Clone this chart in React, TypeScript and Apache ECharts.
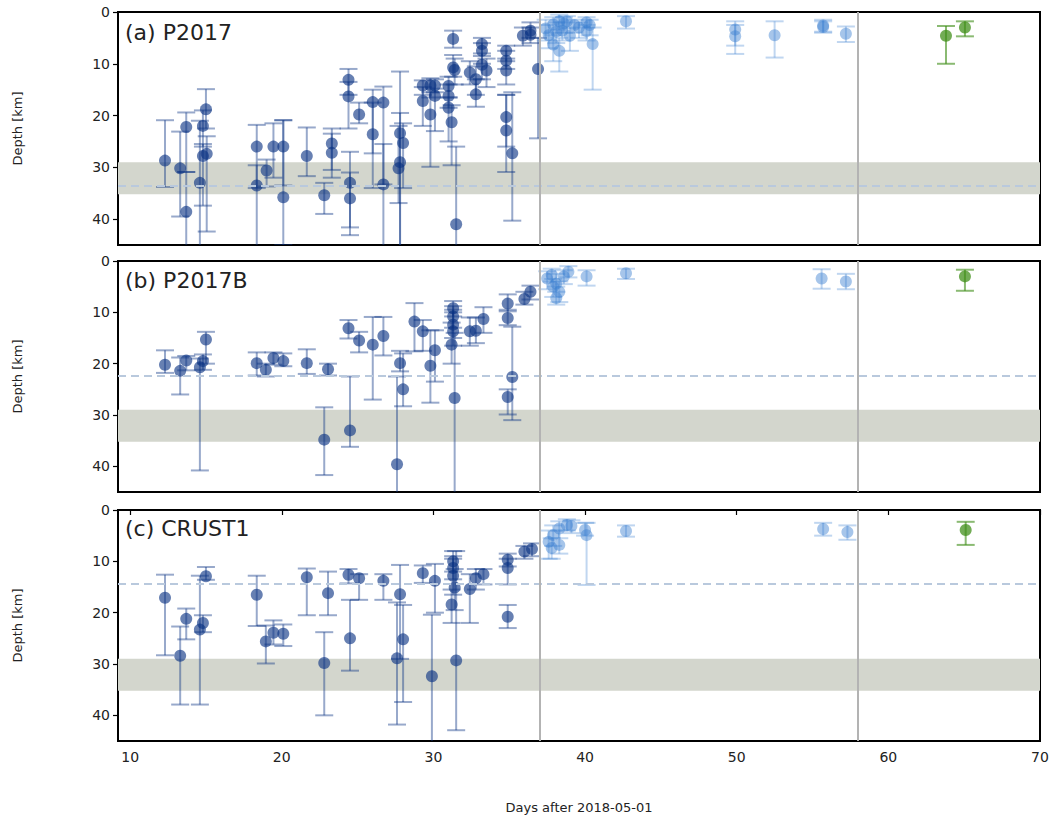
import React, { useEffect, useRef } from "react";
import * as echarts from "echarts";

// [day, depth, depthTopOfErrorBar, depthBottomOfErrorBar]
const aDark: number[][] = [
  [12.3, 28.7, 20.9, 33.8], [13.3, 30.2, 23.1, 39.5], [13.7, 22.2, 19.4, 30.9], [13.7, 38.6, 30.9, 50],
  [14.6, 33.0, 21.0, 50], [14.8, 22.0, 19.0, 26.0], [15.0, 18.8, 14.9, 22.5], [14.8, 27.8, 25.5, 37.4],
  [15.05, 27.4, 24.0, 42.4], [18.35, 26.0, 21.8, 34.0], [18.35, 33.5, 29.6, 50], [19.0, 30.6, 28.5, 33.7],
  [19.45, 26.0, 21.5, 32.0], [20.1, 26.0, 20.9, 33.5], [20.1, 35.8, 20.9, 45], [21.65, 27.8, 22.3, 31.7],
  [22.8, 35.4, 33.0, 39.0], [23.3, 25.4, 22.5, 30.5], [23.3, 27.2, 23.5, 32.0], [24.4, 13.1, 11.0, 16.0],
  [24.4, 16.3, 13.5, 22.5], [24.5, 33.0, 27.0, 41.6], [24.5, 36.0, 31.0, 43.1], [25.1, 19.8, 17.5, 21.5],
  [26.0, 17.4, 15.0, 34.0], [26.0, 23.6, 17.5, 27.3], [26.7, 17.5, 14.4, 50], [26.7, 33.3, 25.5, 33.3],
  [27.8, 23.4, 19.5, 50], [28.0, 25.3, 21.5, 34.0], [27.8, 29.0, 11.5, 50], [27.7, 30.2, 22.0, 36.9],
  [29.3, 14.2, 13.2, 16.0], [29.3, 17.2, 14.5, 22.0], [29.8, 14.2, 12.8, 16.5], [30.1, 14.2, 13.0, 15.5],
  [30.1, 16.2, 14.8, 23.0], [29.8, 19.8, 15.5, 29.9], [31.3, 5.2, 3.6, 6.9], [31.3, 10.7, 8.3, 12.5],
  [31.4, 11.2, 9.0, 14.0], [31.0, 14.3, 12.5, 16.5], [31.0, 16.2, 14.0, 18.5], [31.0, 18.5, 16.5, 25.0],
  [31.2, 21.3, 18.0, 29.6], [31.5, 41.0, 26.0, 50], [32.4, 11.7, 9.5, 14.0], [32.8, 13.0, 10.5, 16.0],
  [32.8, 15.9, 13.0, 18.3], [33.2, 6.2, 5.0, 8.5], [33.2, 7.5, 6.0, 10.0], [33.2, 10.2, 8.0, 13.0],
  [33.5, 11.3, 9.0, 14.5], [34.8, 7.5, 6.5, 9.5], [34.8, 9.4, 7.5, 11.0], [34.8, 11.3, 9.0, 14.0],
  [34.8, 20.3, 16.0, 26.0], [34.8, 22.9, 16.0, 30.9], [35.2, 27.3, 15.5, 40.3], [35.9, 4.6, 3.0, 6.5],
  [36.4, 4.4, 3.0, 6.0], [36.4, 3.6, 2.0, 5.0], [36.9, 11.0, 5.0, 24.4],
];
const aLight: number[][] = [
  [37.4, 3.2, 1.5, 5.5], [37.6, 4.5, 2.5, 7.0], [37.9, 2.4, 1.0, 4.5], [37.9, 6.3, 4.0, 9.5],
  [38.1, 3.8, 2.0, 6.0], [38.3, 1.8, 0.5, 3.5], [38.3, 7.5, 5.0, 11.5], [38.5, 3.6, 2.0, 5.5],
  [38.6, 2.2, 1.0, 4.0], [38.8, 1.8, 0.8, 3.2], [39.0, 4.6, 3.0, 7.5], [39.3, 2.5, 1.5, 4.0],
  [39.6, 3.0, 2.0, 5.0], [40.1, 2.0, 1.0, 3.0], [40.1, 3.7, 2.5, 5.5], [40.3, 2.5, 1.5, 4.5],
  [40.5, 6.2, 3.0, 15.0], [42.7, 1.8, 0.8, 3.2], [49.9, 3.4, 1.8, 6.5], [49.9, 4.7, 2.5, 8.1],
  [52.5, 4.5, 1.8, 8.8], [55.7, 2.6, 1.5, 3.8], [55.7, 2.9, 1.8, 4.0], [57.2, 4.2, 2.8, 5.8],
];
const aGreen: number[][] = [[63.8, 4.6, 2.7, 10.0], [65.05, 3.0, 1.8, 4.7]];

const bDark: number[][] = [
  [12.3, 20.2, 17.4, 21.8], [13.3, 21.4, 18.8, 26.0], [13.7, 19.4, 18.5, 21.3], [14.6, 20.7, 19.0, 40.8],
  [14.8, 19.5, 18.2, 21.2], [15.0, 15.3, 13.8, 20.0], [18.35, 19.9, 17.8, 22.3], [18.95, 21.2, 20.0, 22.5],
  [19.45, 18.9, 17.8, 20.2], [20.1, 19.5, 18.0, 20.5], [21.65, 19.9, 17.2, 22.0], [22.8, 34.8, 28.5, 41.7],
  [23.05, 21.1, 20.0, 22.3], [24.4, 13.1, 11.5, 15.1], [24.5, 33.0, 22.5, 36.2], [25.1, 15.5, 13.8, 17.8],
  [26.0, 16.3, 10.9, 27.0], [26.7, 14.6, 10.9, 18.4], [27.8, 19.9, 17.5, 21.5], [28.0, 25.0, 18.0, 28.3],
  [27.6, 39.6, 22.5, 50], [28.75, 11.8, 8.2, 17.6], [29.3, 13.7, 11.5, 17.5], [29.8, 20.4, 13.5, 27.6],
  [30.1, 17.4, 13.5, 23.5], [31.3, 9.2, 7.8, 10.8], [31.3, 10.8, 8.8, 13.0], [31.3, 12.4, 9.5, 15.0],
  [31.3, 13.7, 10.0, 16.5], [31.2, 16.3, 12.0, 20.0], [31.4, 26.7, 14.0, 50], [32.4, 13.7, 11.0, 16.5],
  [32.8, 13.6, 11.0, 16.0], [33.3, 11.3, 9.0, 14.0], [34.9, 8.3, 6.5, 9.8], [34.9, 11.1, 9.5, 12.5],
  [34.9, 26.5, 25.0, 29.9], [35.2, 22.6, 12.8, 31.0], [36.0, 7.4, 6.0, 8.5], [36.4, 6.0, 4.8, 7.5],
];
const bLight: number[][] = [
  [37.5, 3.4, 2.0, 5.5], [37.8, 2.7, 1.5, 4.0], [37.9, 5.0, 3.5, 7.0], [38.1, 4.4, 2.5, 6.0],
  [38.3, 6.0, 4.0, 8.0], [38.1, 7.2, 5.0, 8.5], [38.6, 3.0, 1.8, 4.5], [38.9, 2.1, 1.0, 3.2],
  [40.1, 3.0, 1.8, 4.8], [42.7, 2.4, 1.5, 3.5], [55.6, 3.4, 1.6, 5.4], [57.2, 4.0, 2.5, 5.5],
];
const bGreen: number[][] = [[65.05, 3.0, 1.7, 5.8]];

const cDark: number[][] = [
  [12.3, 17.1, 12.6, 28.3], [13.3, 28.4, 22.7, 37.9], [13.7, 21.2, 19.2, 25.2], [14.6, 23.3, 12.8, 37.9],
  [14.8, 22.0, 20.5, 23.8], [15.0, 12.9, 11.1, 13.6], [18.35, 16.5, 12.8, 22.6], [18.95, 25.6, 22.5, 29.9],
  [19.45, 23.9, 21.5, 26.2], [20.1, 24.1, 22.3, 26.5], [21.65, 13.1, 11.4, 20.5], [22.8, 29.8, 23.8, 40.0],
  [23.05, 16.2, 12.0, 20.5], [24.4, 12.6, 11.5, 14.3], [24.5, 25.0, 17.5, 31.3], [25.1, 13.3, 12.5, 17.5],
  [26.7, 13.8, 12.5, 17.5], [27.8, 16.4, 10.7, 29.0], [27.6, 28.9, 18.0, 41.8], [28.0, 25.2, 18.5, 37.4],
  [29.3, 12.3, 10.8, 14.2], [29.9, 32.4, 20.4, 50], [30.1, 13.8, 10.5, 20.0], [31.3, 10.0, 8.0, 12.0],
  [31.3, 11.3, 9.0, 13.5], [31.3, 12.8, 9.5, 16.5], [31.4, 15.1, 11.5, 19.5], [31.2, 18.4, 15.5, 22.0],
  [31.5, 29.3, 8.0, 42.9], [32.4, 15.4, 12.5, 22.0], [32.8, 13.3, 11.5, 15.5], [33.3, 12.5, 11.5, 14.5],
  [34.9, 9.7, 8.5, 11.0], [34.9, 11.3, 9.5, 14.5], [34.9, 20.8, 18.5, 23.0], [36.0, 8.1, 7.0, 9.5],
  [36.5, 7.6, 6.5, 9.0],
];
const cLight: number[][] = [
  [37.6, 6.2, 4.0, 9.5], [37.9, 4.9, 3.0, 7.0], [37.8, 7.4, 5.5, 9.5], [38.3, 3.6, 2.2, 5.5],
  [38.3, 6.8, 4.0, 8.5], [38.8, 2.9, 1.8, 4.0], [39.1, 3.1, 2.0, 4.5], [40.0, 3.9, 2.5, 5.0],
  [40.1, 4.9, 2.5, 14.6], [42.7, 4.1, 3.0, 5.2], [55.7, 3.7, 2.5, 5.0], [57.3, 4.3, 3.0, 5.8],
];
const cGreen: number[][] = [[65.1, 3.9, 2.3, 6.8]];

const panelTitles = ["(a) P2017", "(b) P2017B", "(c) CRUST1"];
const refDepths = [33.6, 22.4, 14.3];
const bandRange = [29, 35.2];
const verticalDays = [37, 58];
const yTicks = [0, 10, 20, 30, 40];
const xTicks = [10, 20, 30, 40, 50, 60, 70];

const FONT = "DejaVu Sans";
const DARK = "#0a3282";
const LIGHT = "#3a7fd0";
const GREEN = "#3c8c14";

function makeRender(color: string, lineAlpha: number, markerAlpha: number) {
  return (params: any, api: any) => {
    const x = api.value(0);
    const p = api.coord([x, api.value(1)]);
    const pl = api.coord([x, api.value(2)]);
    const ph = api.coord([x, api.value(3)]);
    const cs = params.coordSys;
    const top = cs.y;
    const bot = cs.y + cs.height;
    const lstyle = { stroke: color, lineWidth: 2, opacity: lineAlpha };
    const children: any[] = [];
    const y1 = Math.max(top, Math.min(pl[1], ph[1]));
    const y2 = Math.min(bot, Math.max(pl[1], ph[1]));
    children.push({ type: "line", shape: { x1: p[0], y1, x2: p[0], y2 }, style: lstyle });
    const cap = 9;
    [pl[1], ph[1]].forEach((cy: number) => {
      if (cy >= top - 0.5 && cy <= bot + 0.5) {
        children.push({ type: "line", shape: { x1: p[0] - cap, y1: cy, x2: p[0] + cap, y2: cy }, style: lstyle });
      }
    });
    if (p[1] >= top && p[1] <= bot) {
      children.push({ type: "circle", shape: { cx: p[0], cy: p[1], r: 6 }, style: { fill: color, opacity: markerAlpha } });
    }
    return { type: "group", children };
  };
}

export default function App() {
  const ref = useRef<HTMLDivElement>(null);
  useEffect(() => {
    if (!ref.current) return;
    const chart = echarts.init(ref.current, null, { renderer: "svg" });
    const grids = [
      { left: 118, top: 12, width: 922, height: 233 },
      { left: 118, top: 261, width: 922, height: 231 },
      { left: 118, top: 510, width: 922, height: 231 },
    ];
    const titleTops = [21, 269, 517];
    const groups = [
      [aDark, aLight, aGreen],
      [bDark, bLight, bGreen],
      [cDark, cLight, cGreen],
    ];
    const styles: [string, number, number][] = [
      [DARK, 0.42, 0.62],
      [LIGHT, 0.32, 0.45],
      [GREEN, 0.6, 0.72],
    ];
    const series: any[] = [];
    groups.forEach((g, i) => {
      series.push({
        type: "line",
        xAxisIndex: i,
        yAxisIndex: i,
        data: [],
        silent: true,
        z: 1,
        markArea: {
          silent: true,
          itemStyle: { color: "#d3d6cd" },
          data: [[{ yAxis: bandRange[0] }, { yAxis: bandRange[1] }]],
        },
        markLine: {
          silent: true,
          symbol: "none",
          label: { show: false },
          data: [
            { yAxis: refDepths[i], lineStyle: { color: "#b9c9dd", width: 2, type: [8, 5] } },
            ...verticalDays.map((d) => ({ xAxis: d, lineStyle: { color: "#b3b3b3", width: 2, type: "solid" } })),
          ],
        },
      });
      g.forEach((d, k) => {
        series.push({
          type: "custom",
          xAxisIndex: i,
          yAxisIndex: i,
          z: 3,
          clip: true,
          data: d,
          encode: { x: 0, y: 1 },
          renderItem: makeRender(styles[k][0], styles[k][1], styles[k][2]),
        });
      });
    });
    chart.setOption({
      animation: false,
      backgroundColor: "#fff",
      title: panelTitles.map((t, i) => ({
        text: t,
        left: 125,
        top: titleTops[i],
        padding: 0,
        textStyle: { fontSize: 22, fontWeight: "normal", fontFamily: FONT, color: "#222" },
      })),
      grid: grids.map((g) => ({ ...g, show: true, borderColor: "#000", borderWidth: 2, backgroundColor: "transparent" })),
      xAxis: grids.map((_, i) => ({
        type: "value",
        gridIndex: i,
        min: 9.2,
        max: 70,
        axisLine: { show: false },
        splitLine: { show: false },
        axisTick: i === 2 ? { show: true, length: 5, lineStyle: { color: "#000", width: 1.2 }, customValues: xTicks } : { show: false },
        axisLabel:
          i === 2
            ? { show: true, margin: 9, fontSize: 14, fontFamily: FONT, color: "#222", customValues: xTicks }
            : { show: false },
        name: i === 2 ? "Days after 2018-05-01" : "",
        nameLocation: "middle",
        nameGap: 60,
        nameTextStyle: { fontSize: 13, fontFamily: FONT, color: "#222" },
      })),
      yAxis: grids.map((_, i) => ({
        type: "value",
        gridIndex: i,
        inverse: true,
        min: 0,
        max: 45,
        axisLine: { show: false },
        splitLine: { show: false },
        axisTick: { show: true, length: 5, lineStyle: { color: "#000", width: 1.2 }, customValues: yTicks },
        axisLabel: { margin: 8, fontSize: 14, fontFamily: FONT, color: "#222", customValues: yTicks },
        name: "Depth [km]",
        nameLocation: "middle",
        nameGap: 94,
        nameRotate: 90,
        nameTextStyle: { fontSize: 13, fontFamily: FONT, color: "#222" },
      })),
      series,
    });
    return () => chart.dispose();
  }, []);
  return <div ref={ref} style={{ position: "fixed", left: 0, top: 0, width: 1054, height: 820 }} />;
}
